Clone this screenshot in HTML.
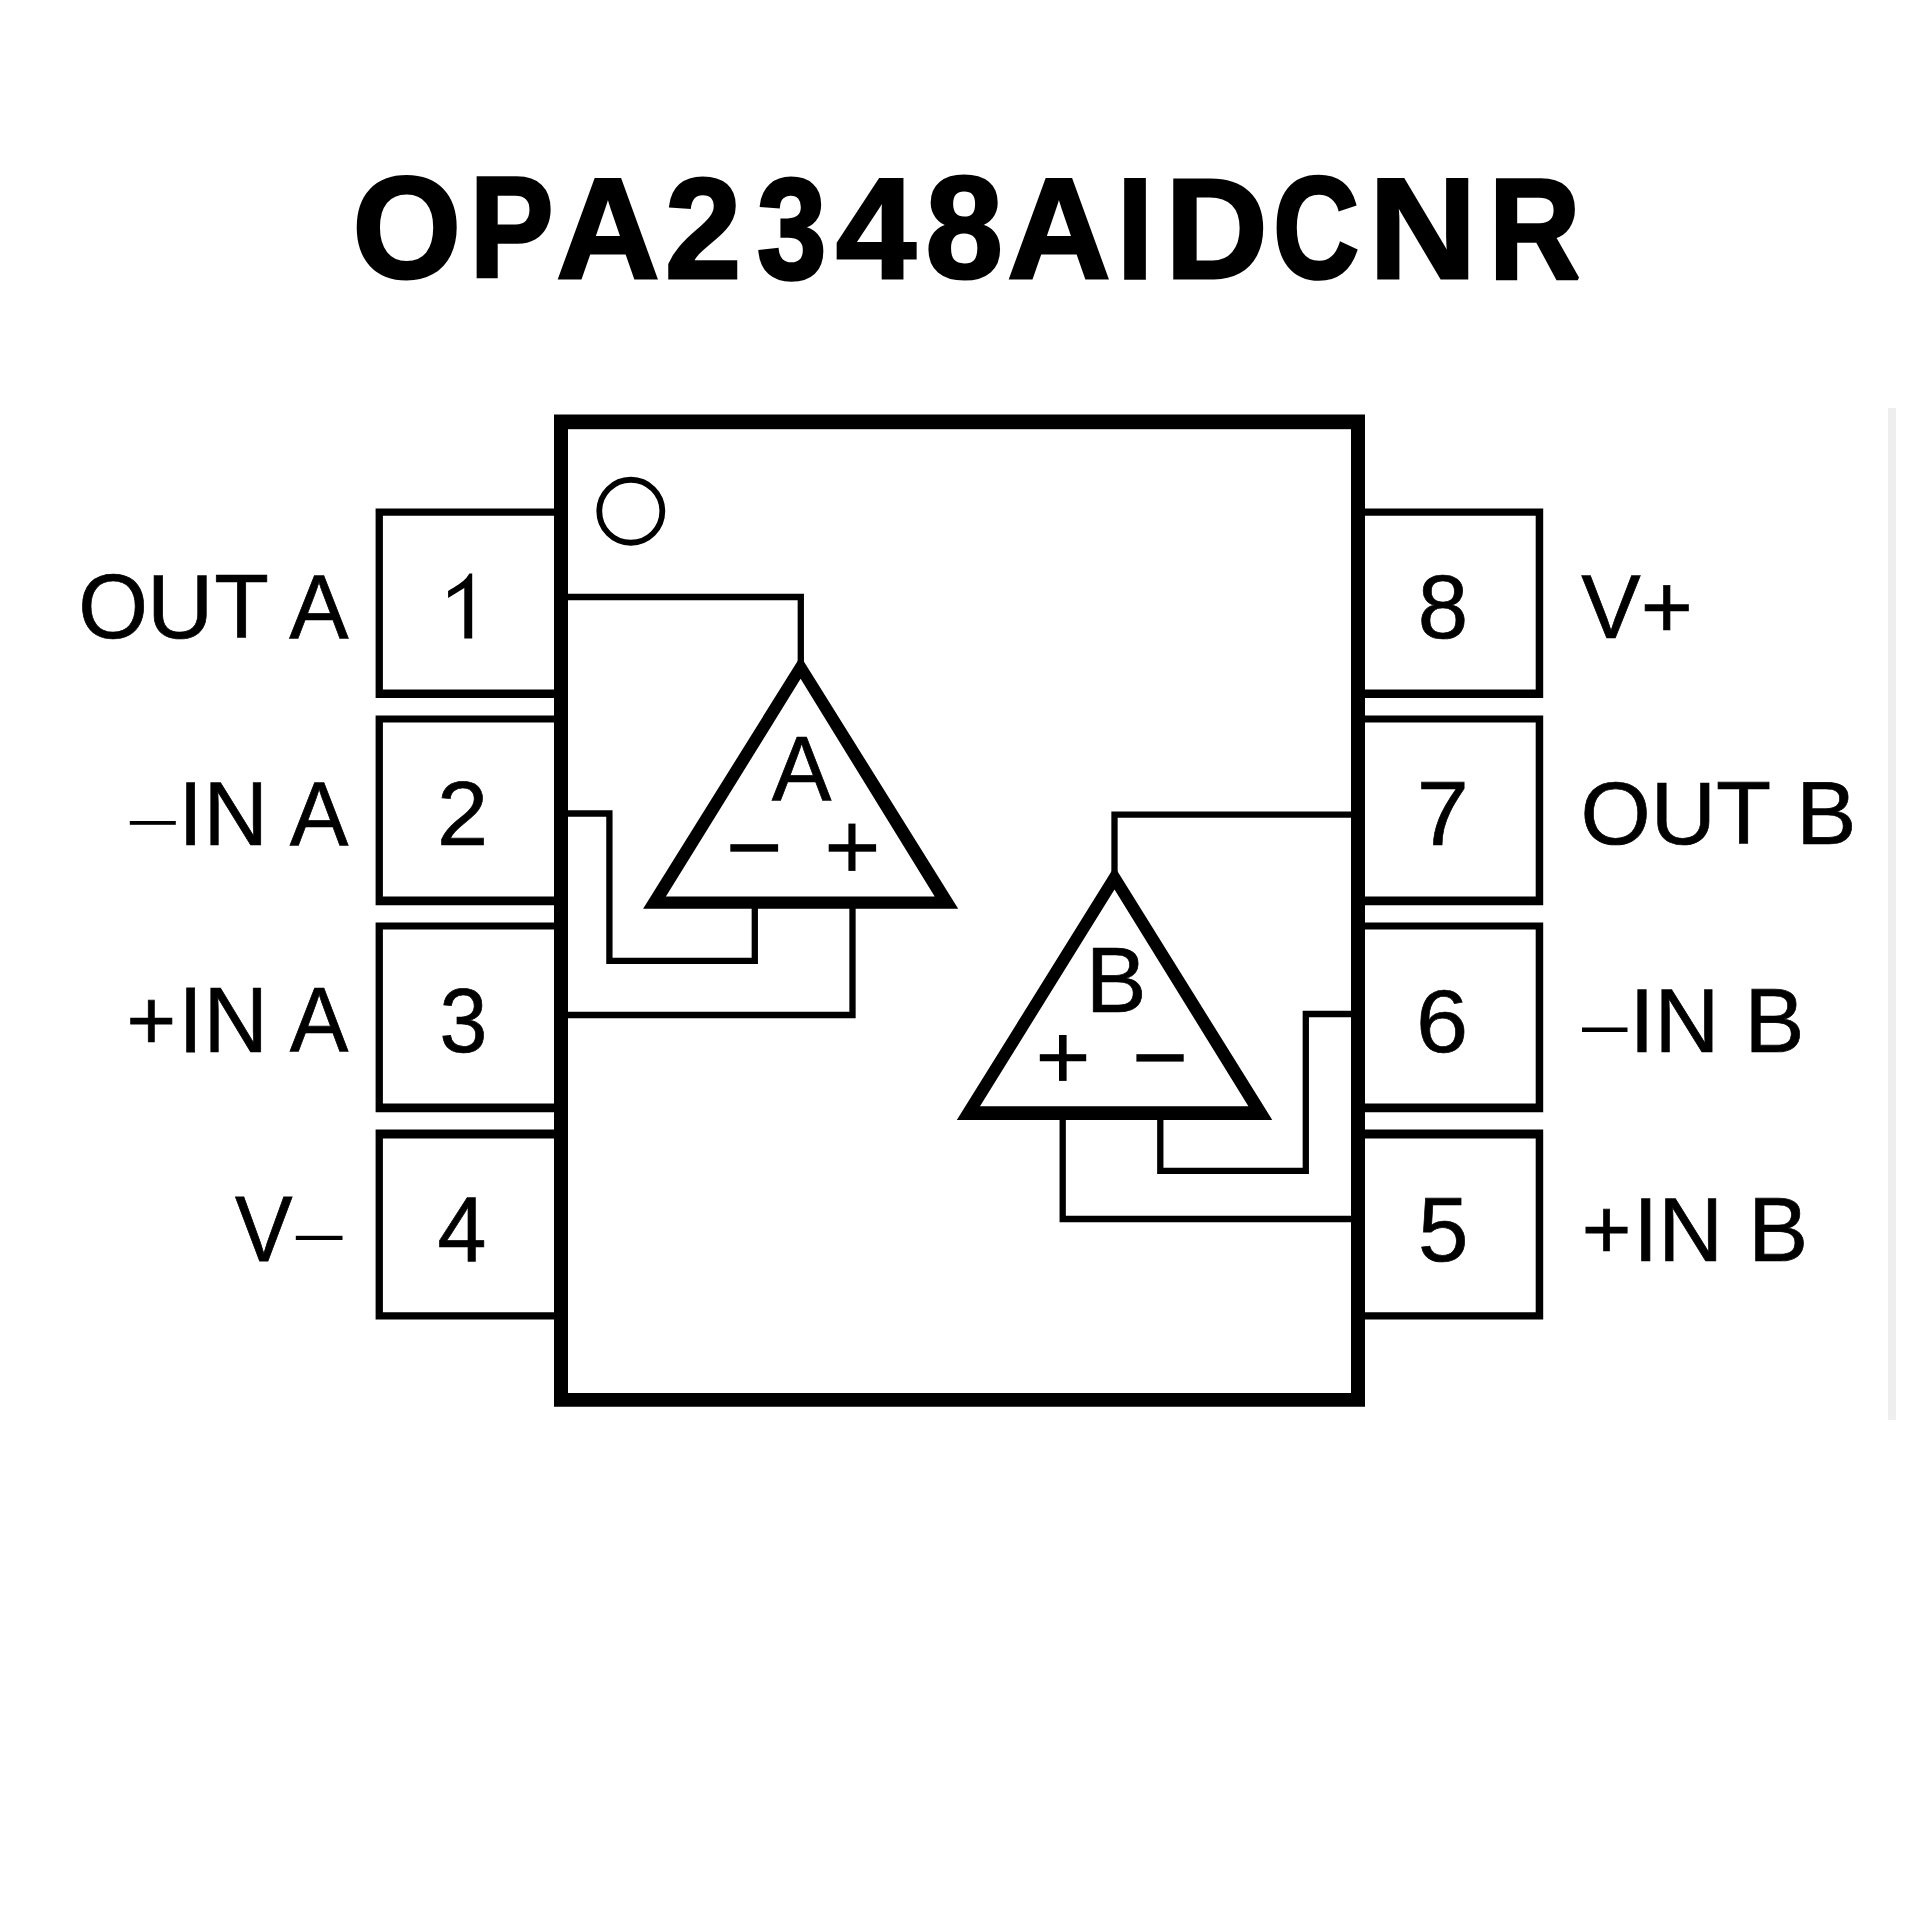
<!DOCTYPE html>
<html><head><meta charset="utf-8"><title>OPA2348AIDCNR</title>
<style>
html,body{margin:0;padding:0;background:#fff;}
body{width:1920px;height:1920px;overflow:hidden;}
svg{display:block;font-family:"Liberation Sans",sans-serif;font-kerning:none;}
</style></head><body>
<svg width="1920" height="1920" viewBox="0 0 1920 1920">
<rect x="0" y="0" width="1920" height="1920" fill="#fff"/>
<rect x="1888" y="408" width="8" height="1012" fill="#eee"/>
<g fill="#000">
<text font-size="100" font-weight="bold" stroke="#000" stroke-width="2.149" stroke-linejoin="miter" stroke-miterlimit="2" transform="matrix(1.39604 0 0 1.44552 352.474 278.285)">O</text>
<text font-size="100" font-weight="bold" stroke="#000" stroke-width="2.391" stroke-linejoin="miter" stroke-miterlimit="2" transform="matrix(1.25460 0 0 1.42295 469.807 277.499)">P</text>
<text font-size="100" font-weight="bold" stroke="#000" stroke-width="2.097" stroke-linejoin="miter" stroke-miterlimit="2" transform="matrix(1.43092 0 0 1.42887 556.237 277.702)">A</text>
<text font-size="100" font-weight="bold" stroke="#000" stroke-width="2.188" stroke-linejoin="miter" stroke-miterlimit="2" transform="matrix(1.37087 0 0 1.43586 665.047 277.629)">2</text>
<text font-size="100" font-weight="bold" stroke="#000" stroke-width="2.405" stroke-linejoin="miter" stroke-miterlimit="2" transform="matrix(1.24731 0 0 1.43758 756.938 277.907)">3</text>
<text font-size="100" font-weight="bold" stroke="#000" stroke-width="2.087" stroke-linejoin="miter" stroke-miterlimit="2" transform="matrix(1.43752 0 0 1.42906 836.024 277.709)">4</text>
<text font-size="100" font-weight="bold" stroke="#000" stroke-width="2.156" stroke-linejoin="miter" stroke-miterlimit="2" transform="matrix(1.39167 0 0 1.44538 925.383 278.281)">8</text>
<text font-size="100" font-weight="bold" stroke="#000" stroke-width="2.097" stroke-linejoin="miter" stroke-miterlimit="2" transform="matrix(1.43092 0 0 1.42887 1007.237 277.702)">A</text>
<text font-size="100" font-weight="bold" stroke="#000" stroke-width="2.311" stroke-linejoin="miter" stroke-miterlimit="2" transform="matrix(1.29822 0 0 1.42456 1117.116 277.554)">I</text>
<text font-size="100" font-weight="bold" stroke="#000" stroke-width="2.115" stroke-linejoin="miter" stroke-miterlimit="2" transform="matrix(1.41860 0 0 1.42850 1165.310 277.690)">D</text>
<text font-size="100" font-weight="bold" stroke="#000" stroke-width="2.528" stroke-linejoin="miter" stroke-miterlimit="2" transform="matrix(1.18689 0 0 1.43805 1273.332 278.028)">C</text>
<text font-size="100" font-weight="bold" stroke="#000" stroke-width="2.004" stroke-linejoin="miter" stroke-miterlimit="2" transform="matrix(1.49688 0 0 1.43073 1368.787 277.766)">N</text>
<text font-size="100" font-weight="bold" stroke="#000" stroke-width="2.371" stroke-linejoin="miter" stroke-miterlimit="2" transform="matrix(1.26503 0 0 1.42335 1489.038 277.512)">R</text>
</g>
<path fill="#000" fill-rule="evenodd" d="M375.6 508.6 H561 V698.0 H375.6 Z M382.9 515.8 H561 V689.5 H382.9 Z"/>
<path fill="#000" fill-rule="evenodd" d="M1358 508.6 H1543.2 V698.0 H1358 Z M1358 515.8 H1535.7 V689.5 H1358 Z"/>
<path fill="#000" fill-rule="evenodd" d="M375.6 715.6 H561 V905.3 H375.6 Z M382.9 722.5 H561 V896.6 H382.9 Z"/>
<path fill="#000" fill-rule="evenodd" d="M1358 715.6 H1543.2 V905.3 H1358 Z M1358 722.5 H1535.7 V896.6 H1358 Z"/>
<path fill="#000" fill-rule="evenodd" d="M375.6 922.6 H561 V1112.3 H375.6 Z M382.9 929.5 H561 V1103.6 H382.9 Z"/>
<path fill="#000" fill-rule="evenodd" d="M1358 922.6 H1543.2 V1112.3 H1358 Z M1358 929.5 H1535.7 V1103.6 H1358 Z"/>
<path fill="#000" fill-rule="evenodd" d="M375.6 1129.5 H561 V1319.5 H375.6 Z M382.9 1138.4 H561 V1312.3 H382.9 Z"/>
<path fill="#000" fill-rule="evenodd" d="M1358 1129.5 H1543.2 V1319.5 H1358 Z M1358 1138.4 H1535.7 V1312.3 H1358 Z"/>
<path fill="#000" fill-rule="evenodd" d="M554 414.5 H1365 V1406.8 H554 Z M568 429.4 H1351 V1393 H568 Z"/>
<rect x="568" y="429.4" width="783" height="963.6" fill="#fff"/>
<circle cx="630.8" cy="511.25" r="31.5" fill="none" stroke="#000" stroke-width="5.8"/>
<path fill="none" stroke="#000" stroke-width="6.3" stroke-linejoin="miter" stroke-linecap="butt" d="M566 597 H800.8 V670"/>
<path fill="none" stroke="#000" stroke-width="6.3" stroke-linejoin="miter" stroke-linecap="butt" d="M566 813.5 H609.4 V960.8 H754.8 V900"/>
<path fill="none" stroke="#000" stroke-width="6.3" stroke-linejoin="miter" stroke-linecap="butt" d="M566 1015 H852.5 V900"/>
<path fill="none" stroke="#000" stroke-width="6.3" stroke-linejoin="miter" stroke-linecap="butt" d="M1114.5 880 V814.7 H1353"/>
<path fill="none" stroke="#000" stroke-width="6.3" stroke-linejoin="miter" stroke-linecap="butt" d="M1353 1014 H1305.8 V1170.8 H1160.3 V1110"/>
<path fill="none" stroke="#000" stroke-width="6.3" stroke-linejoin="miter" stroke-linecap="butt" d="M1353 1219 H1062.7 V1110"/>
<path fill="#000" fill-rule="evenodd" d="M800.6 656.2 L958.2 908.75 L643.1 908.75 Z M800.6 678.75 L665.9 896.6 L934.7 896.6 Z"/>
<path fill="#000" fill-rule="evenodd" d="M1114.5 866.6 L1272.25 1120 L956.8 1120 Z M1114.5 889.4 L980 1106.25 L1248.4 1106.25 Z"/>
<rect x="730.30" y="844.20" width="47.80" height="7.50"/>
<rect x="828.70" y="844.20" width="47.40" height="7.50"/>
<rect x="848.40" y="823.60" width="7.10" height="47.30"/>
<rect x="1039.80" y="1054.20" width="46.40" height="7.05"/>
<rect x="1059.00" y="1035.00" width="7.60" height="45.90"/>
<rect x="1136.40" y="1054.20" width="47.30" height="7.40"/>
<g fill="#000">
<text font-size="100" stroke="#000" stroke-width="0.783" stroke-linejoin="miter" stroke-miterlimit="2" transform="matrix(0.89430 0 0 0.92266 771.775 800.739)">A</text>
<text font-size="100" stroke="#000" stroke-width="0.768" stroke-linejoin="miter" stroke-miterlimit="2" transform="matrix(0.91127 0 0 0.92285 1085.675 1012.146)">B</text>
<text font-size="100" stroke="#000" stroke-width="0.781" stroke-linejoin="miter" stroke-miterlimit="2" transform="matrix(0.89655 0 0 0.90247 78.204 637.666)">O</text>
<text font-size="100" stroke="#000" stroke-width="0.762" stroke-linejoin="miter" stroke-miterlimit="2" transform="matrix(0.91922 0 0 0.90591 147.058 637.670)">U</text>
<text font-size="100" stroke="#000" stroke-width="0.782" stroke-linejoin="miter" stroke-miterlimit="2" transform="matrix(0.89489 0 0 0.91404 214.140 638.243)">T</text>
<text font-size="100" stroke="#000" stroke-width="0.787" stroke-linejoin="miter" stroke-miterlimit="2" transform="matrix(0.88978 0 0 0.91398 289.176 638.240)">A</text>
<path d="M448.1 591.0 C455.5 586.6 462.5 582.2 466.3 578.0 L469.4 573.5 L472.2 573.5 L472.2 638.6 L464.3 638.6 L464.3 588.0 L448.1 597.9 Z"/>
<rect x="129.80" y="821.00" width="46.00" height="3.80"/>
<text font-size="100" stroke="#000" stroke-width="0.816" stroke-linejoin="miter" stroke-miterlimit="2" transform="matrix(0.85780 0 0 0.91216 178.734 845.128)">I</text>
<text font-size="100" stroke="#000" stroke-width="0.784" stroke-linejoin="miter" stroke-miterlimit="2" transform="matrix(0.89331 0 0 0.91259 203.422 845.142)">N</text>
<text font-size="100" stroke="#000" stroke-width="0.796" stroke-linejoin="miter" stroke-miterlimit="2" transform="matrix(0.87922 0 0 0.91242 289.778 845.137)">A</text>
<text font-size="100" stroke="#000" stroke-width="0.761" stroke-linejoin="miter" stroke-miterlimit="2" transform="matrix(0.91973 0 0 0.91379 437.024 845.152)">2</text>
<text font-size="100" stroke="#000" stroke-width="0.823" stroke-linejoin="miter" stroke-miterlimit="2" transform="matrix(0.85007 0 0 0.85830 126.399 1049.590)">+</text>
<text font-size="100" stroke="#000" stroke-width="0.816" stroke-linejoin="miter" stroke-miterlimit="2" transform="matrix(0.85780 0 0 0.92078 178.734 1052.324)">I</text>
<text font-size="100" stroke="#000" stroke-width="0.784" stroke-linejoin="miter" stroke-miterlimit="2" transform="matrix(0.89331 0 0 0.92121 203.422 1052.339)">N</text>
<text font-size="100" stroke="#000" stroke-width="0.796" stroke-linejoin="miter" stroke-miterlimit="2" transform="matrix(0.87922 0 0 0.92104 289.778 1052.333)">A</text>
<text font-size="100" stroke="#000" stroke-width="0.813" stroke-linejoin="miter" stroke-miterlimit="2" transform="matrix(0.86054 0 0 0.90345 439.473 1052.050)">3</text>
<text font-size="100" stroke="#000" stroke-width="0.811" stroke-linejoin="miter" stroke-miterlimit="2" transform="matrix(0.86296 0 0 0.93377 234.971 1261.321)">V</text>
<rect x="295.80" y="1235.80" width="46.70" height="4.20"/>
<text font-size="100" stroke="#000" stroke-width="0.796" stroke-linejoin="miter" stroke-miterlimit="2" transform="matrix(0.87913 0 0 0.93397 437.532 1261.328)">4</text>
<text font-size="100" stroke="#000" stroke-width="0.772" stroke-linejoin="miter" stroke-miterlimit="2" transform="matrix(0.90679 0 0 0.90817 1417.659 638.263)">8</text>
<text font-size="100" stroke="#000" stroke-width="0.785" stroke-linejoin="miter" stroke-miterlimit="2" transform="matrix(0.89203 0 0 0.91257 1581.208 637.642)">V+</text>
<text font-size="100" stroke="#000" stroke-width="0.748" stroke-linejoin="miter" stroke-miterlimit="2" transform="matrix(0.93601 0 0 0.91306 1416.801 845.159)">7</text>
<text font-size="100" stroke="#000" stroke-width="0.775" stroke-linejoin="miter" stroke-miterlimit="2" transform="matrix(0.90270 0 0 0.88717 1580.575 844.290)">OUT B</text>
<text font-size="100" stroke="#000" stroke-width="0.746" stroke-linejoin="miter" stroke-miterlimit="2" transform="matrix(0.93840 0 0 0.89801 1416.085 1051.788)">6</text>
<rect x="1582.00" y="1027.50" width="45.50" height="4.50"/>
<text font-size="100" stroke="#000" stroke-width="0.779" stroke-linejoin="miter" stroke-miterlimit="2" transform="matrix(0.89899 0 0 0.90547 1629.554 1052.147)">IN B</text>
<text font-size="100" stroke="#000" stroke-width="0.771" stroke-linejoin="miter" stroke-miterlimit="2" transform="matrix(0.90800 0 0 0.90721 1417.964 1260.764)">5</text>
<text font-size="100" stroke="#000" stroke-width="0.823" stroke-linejoin="miter" stroke-miterlimit="2" transform="matrix(0.85007 0 0 0.84624 1581.699 1258.589)">+</text>
<text font-size="100" stroke="#000" stroke-width="0.779" stroke-linejoin="miter" stroke-miterlimit="2" transform="matrix(0.89899 0 0 0.90906 1633.304 1260.896)">IN B</text>
</g>
</svg>
</body></html>
